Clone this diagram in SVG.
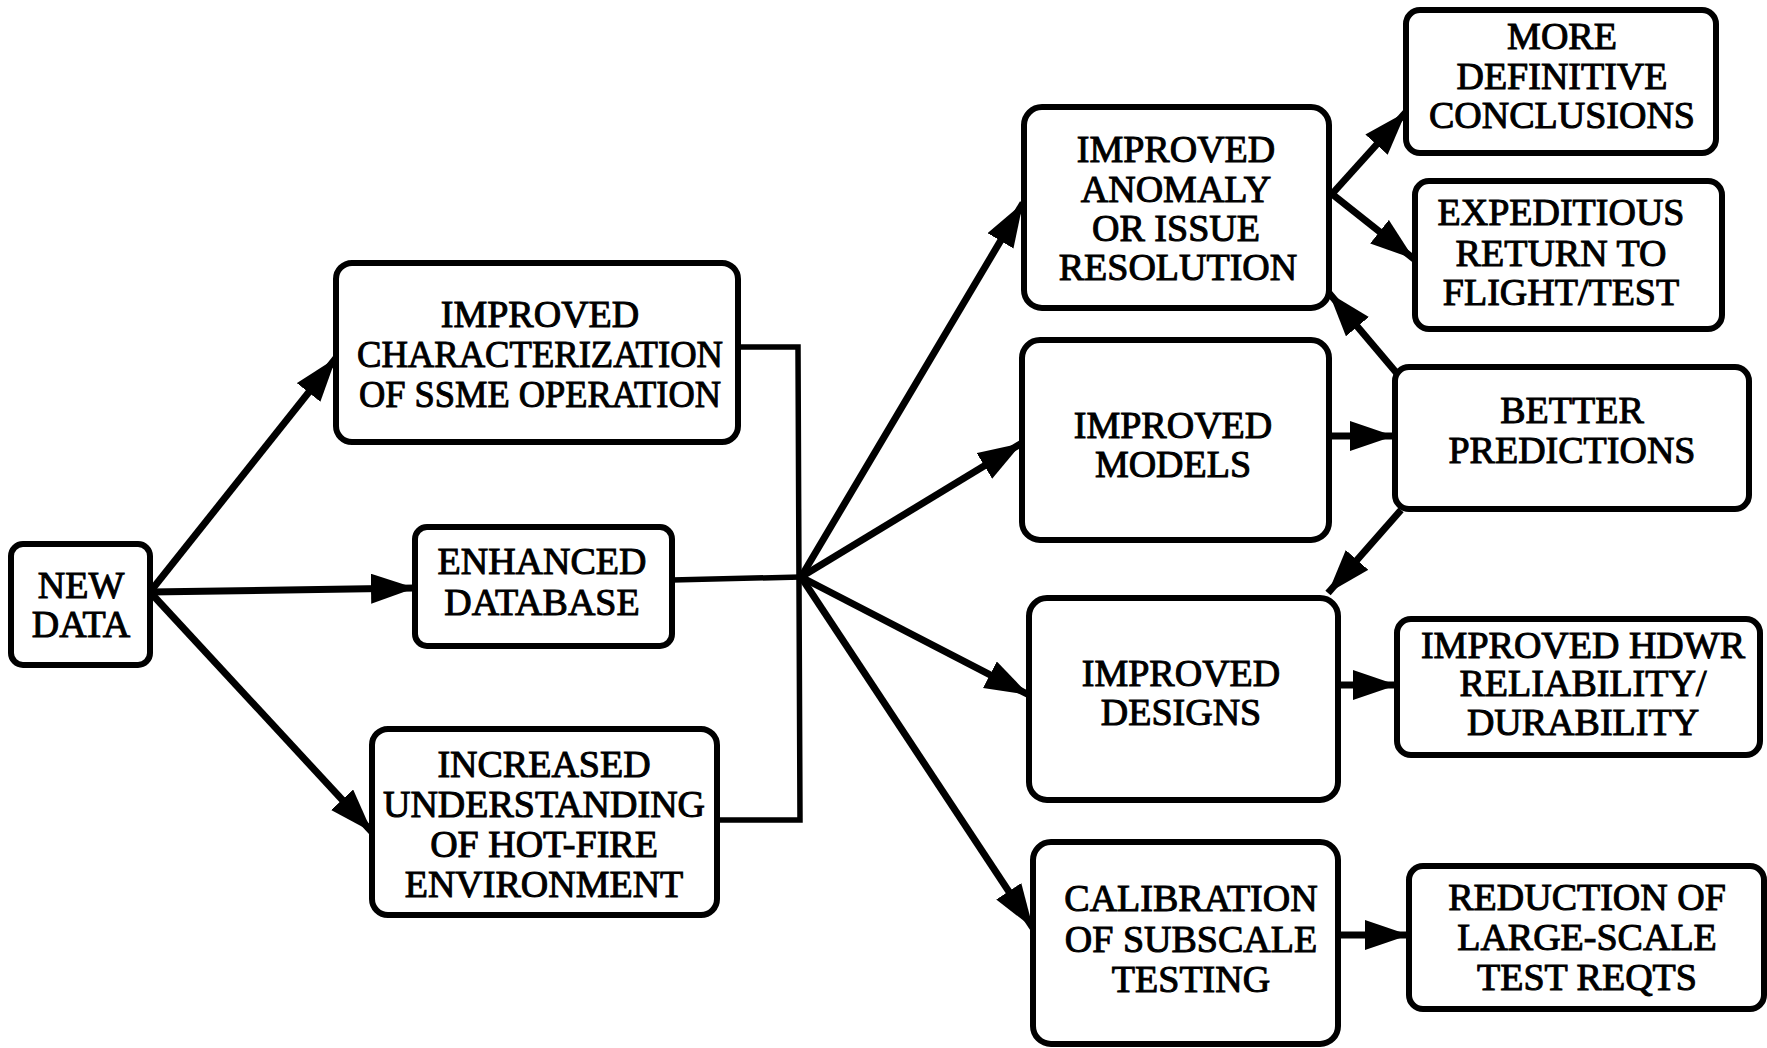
<svg xmlns="http://www.w3.org/2000/svg" width="1767" height="1048" viewBox="0 0 1767 1048">
  <style>
    .box { fill: #fff; stroke: #000; stroke-width: 6; }
    .lbl { font-family: 'Liberation Serif', 'Times New Roman', Times, serif; font-size: 38px; fill: #000; stroke: #000; stroke-width: 1; text-anchor: middle; }
    .wire { fill: none; stroke: #000; stroke-width: 5.5; }
    .arr { fill: none; stroke: #000; stroke-width: 7; marker-end: url(#head); }
  </style>
  <defs>
    <marker id="head" markerUnits="userSpaceOnUse" markerWidth="48" markerHeight="34" refX="44" refY="15" orient="auto">
      <path d="M0,0 L44,15 L0,30 z" fill="#000"/>
    </marker>
  </defs>
  <rect width="1767" height="1048" fill="#fff"/>

  <!-- connectors -->
  <g id="connectors">
    <!-- from NEW DATA -->
    <line class="arr" x1="150" y1="592" x2="336" y2="358"/>
    <line class="arr" x1="150" y1="592" x2="415" y2="588"/>
    <line class="arr" x1="150" y1="592" x2="372" y2="832"/>
    <!-- collector bus -->
    <polyline class="wire" points="738,347 798,347 800,820 717,820"/>
    <line class="wire" x1="672" y1="580" x2="801" y2="577"/>
    <!-- from hub -->
    <line class="arr" x1="801" y1="577" x2="1023" y2="203"/>
    <line class="arr" x1="801" y1="577" x2="1022" y2="443"/>
    <line class="arr" x1="801" y1="577" x2="1029" y2="695"/>
    <line class="arr" x1="801" y1="577" x2="1033" y2="928"/>
    <!-- right side -->
    <line class="arr" x1="1332" y1="194" x2="1406" y2="112"/>
    <line class="arr" x1="1332" y1="194" x2="1414" y2="259"/>
    <line class="arr" x1="1400" y1="377" x2="1329" y2="293"/>
    <line class="arr" x1="1330" y1="436" x2="1394" y2="436"/>
    <line class="arr" x1="1401" y1="510" x2="1328" y2="593"/>
    <line class="arr" x1="1338" y1="685" x2="1397" y2="685"/>
    <line class="arr" x1="1338" y1="935" x2="1409" y2="935"/>
  </g>

  <g id="new-data">
    <rect class="box" x="11" y="544" width="139" height="121" rx="12"/>
    <text class="lbl" x="81" y="598">NEW</text>
    <text class="lbl" x="81" y="637">DATA</text>
  </g>

  <g id="characterization">
    <rect class="box" x="336" y="263" width="402" height="179" rx="16"/>
    <text class="lbl" x="540" y="327">IMPROVED</text>
    <text class="lbl" x="540" y="367" textLength="366" lengthAdjust="spacingAndGlyphs">CHARACTERIZATION</text>
    <text class="lbl" x="540" y="407" textLength="362" lengthAdjust="spacingAndGlyphs">OF SSME OPERATION</text>
  </g>

  <g id="database">
    <rect class="box" x="415" y="527" width="257" height="119" rx="12"/>
    <text class="lbl" x="542" y="574">ENHANCED</text>
    <text class="lbl" x="542" y="615">DATABASE</text>
  </g>

  <g id="understanding">
    <rect class="box" x="372" y="729" width="345" height="186" rx="16"/>
    <text class="lbl" x="544" y="777">INCREASED</text>
    <text class="lbl" x="544" y="817">UNDERSTANDING</text>
    <text class="lbl" x="544" y="857">OF HOT-FIRE</text>
    <text class="lbl" x="544" y="897">ENVIRONMENT</text>
  </g>

  <g id="anomaly">
    <rect class="box" x="1024" y="107" width="305" height="201" rx="18"/>
    <text class="lbl" x="1176" y="162">IMPROVED</text>
    <text class="lbl" x="1176" y="202">ANOMALY</text>
    <text class="lbl" x="1176" y="241">OR ISSUE</text>
    <text class="lbl" x="1178" y="280">RESOLUTION</text>
  </g>

  <g id="models">
    <rect class="box" x="1022" y="340" width="307" height="200" rx="18"/>
    <text class="lbl" x="1173" y="438">IMPROVED</text>
    <text class="lbl" x="1173" y="477">MODELS</text>
  </g>

  <g id="designs">
    <rect class="box" x="1029" y="598" width="309" height="202" rx="18"/>
    <text class="lbl" x="1181" y="686">IMPROVED</text>
    <text class="lbl" x="1181" y="725">DESIGNS</text>
  </g>

  <g id="calibration">
    <rect class="box" x="1033" y="842" width="305" height="202" rx="18"/>
    <text class="lbl" x="1191" y="911">CALIBRATION</text>
    <text class="lbl" x="1191" y="952">OF SUBSCALE</text>
    <text class="lbl" x="1191" y="992">TESTING</text>
  </g>

  <g id="conclusions">
    <rect class="box" x="1406" y="10" width="310" height="143" rx="14"/>
    <text class="lbl" x="1562" y="49">MORE</text>
    <text class="lbl" x="1562" y="89">DEFINITIVE</text>
    <text class="lbl" x="1562" y="128">CONCLUSIONS</text>
  </g>

  <g id="return-to-flight">
    <rect class="box" x="1415" y="181" width="307" height="148" rx="14"/>
    <text class="lbl" x="1561" y="225">EXPEDITIOUS</text>
    <text class="lbl" x="1561" y="266">RETURN TO</text>
    <text class="lbl" x="1561" y="305">FLIGHT/TEST</text>
  </g>

  <g id="predictions">
    <rect class="box" x="1395" y="367" width="354" height="142" rx="14"/>
    <text class="lbl" x="1572" y="423">BETTER</text>
    <text class="lbl" x="1572" y="463">PREDICTIONS</text>
  </g>

  <g id="reliability">
    <rect class="box" x="1397" y="619" width="363" height="136" rx="14"/>
    <text class="lbl" x="1583" y="658">IMPROVED HDWR</text>
    <text class="lbl" x="1583" y="696">RELIABILITY/</text>
    <text class="lbl" x="1583" y="735">DURABILITY</text>
  </g>

  <g id="test-reqts">
    <rect class="box" x="1409" y="866" width="355" height="143" rx="14"/>
    <text class="lbl" x="1587" y="910">REDUCTION OF</text>
    <text class="lbl" x="1587" y="950">LARGE-SCALE</text>
    <text class="lbl" x="1587" y="990">TEST REQTS</text>
  </g>
</svg>
